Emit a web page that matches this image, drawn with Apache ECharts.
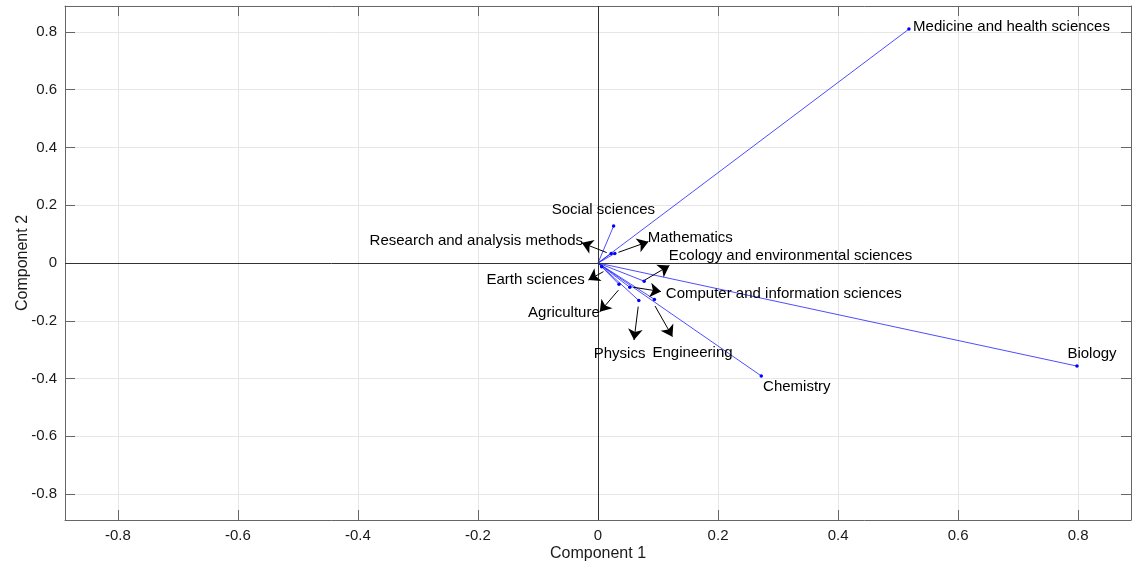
<!DOCTYPE html>
<html><head><meta charset="utf-8">
<script src="https://cdn.jsdelivr.net/npm/echarts@6/dist/echarts.min.js"></script>
<style>html,body{margin:0;padding:0;background:#fff}#c{width:1139px;height:565px}</style>
</head><body><div id="c"></div><script>
// ---- data ----
const names = ['Medicine and health sciences','Biology','Chemistry','Social sciences','Research and analysis methods','Mathematics','Ecology and environmental sciences','Earth sciences','Computer and information sciences','Agriculture','Physics','Engineering'];
const comp1 = [0.518, 0.798, 0.272, 0.026, 0.022, 0.028, 0.077, 0.006, 0.053, 0.035, 0.068, 0.094];
const comp2 = [0.810, -0.357, -0.391, 0.128, 0.033, 0.033, -0.063, -0.013, -0.084, -0.074, -0.130, -0.126];
// label anchors (data units) and alignment
const labelX = [0.525, 0.782, 0.275, 0.009, -0.025, 0.083, 0.118, -0.022, 0.113, 0.003, 0.036, 0.1575];
const labelY = [0.817, -0.315, -0.429, 0.184, 0.076, 0.087, 0.024, -0.059, -0.107, -0.173, -0.315, -0.312];
const labelAlign = ['left','left','left','center','right','left','left','right','left','right','center','center'];
// annotation arrows (data units): null when none
const arrowFromX = [null, null, null, null, 0.0145, 0.034, 0.078, 0.009, 0.059, 0.034, 0.067, 0.095];
const arrowFromY = [null, null, null, null, 0.036, 0.037, -0.059, -0.030, -0.084, -0.094, -0.151, -0.149];
const arrowToX   = [null, null, null, null, -0.027, 0.084, 0.119, -0.016, 0.105, 0.003, 0.060, 0.124];
const arrowToY   = [null, null, null, null, 0.070, 0.074, -0.009, -0.059, -0.099, -0.169, -0.267, -0.255];
const tickVals = [-0.8, -0.6, -0.4, -0.2, 0, 0.2, 0.4, 0.6, 0.8];
const xRange = [-0.888, 0.888];
const yRange = [-0.89, 0.89];

// ---- chart ----
const font = '"Liberation Sans", Arial, Helvetica, sans-serif';
const axisColor = '#666';
const fmt = v => String(Math.round(v * 10) / 10);

function mainAxis(isX) {
  return {
    type: 'value', min: (isX ? xRange : yRange)[0], max: (isX ? xRange : yRange)[1],
    position: isX ? 'bottom' : 'left',
    axisLine: { show: true, onZero: false, lineStyle: { color: axisColor, width: 1 } },
    axisTick: { show: true, inside: true, length: 10, customValues: tickVals, lineStyle: { color: axisColor } },
    axisLabel: { customValues: tickVals, formatter: fmt, color: '#1a1a1a', fontSize: 15, fontFamily: font, margin: 8 },
    splitLine: { show: true, lineStyle: { color: '#e6e6e6', width: 1 } },
    name: isX ? 'Component 1' : 'Component 2',
    nameLocation: 'middle', nameGap: isX ? 26 : 34, nameMoveOverlap: false,
    nameTextStyle: { color: '#1a1a1a', fontSize: 16, fontFamily: font }
  };
}
function mirrorAxis(isX) {
  return {
    type: 'value', min: (isX ? xRange : yRange)[0], max: (isX ? xRange : yRange)[1],
    position: isX ? 'top' : 'right',
    axisLine: { show: true, onZero: false, lineStyle: { color: axisColor, width: 1 } },
    axisTick: { show: true, inside: true, length: 10, customValues: tickVals, lineStyle: { color: axisColor } },
    axisLabel: { show: false },
    splitLine: { show: false }
  };
}

const vectors = names.map((n, i) => ({ coords: [[0, 0], [comp1[i], comp2[i]]] }));
const tips = names.map((n, i) => [comp1[i], comp2[i]]);
const arrows = [];
names.forEach((n, i) => {
  if (arrowFromX[i] !== null) arrows.push({ coords: [[arrowFromX[i], arrowFromY[i]], [arrowToX[i], arrowToY[i]]] });
});
const labels = names.map((n, i) => ({
  name: n, value: [labelX[i], labelY[i]],
  label: { align: labelAlign[i] }
}));

const option = {
  animation: false,
  backgroundColor: '#fff',
  grid: { left: 65, right: 8, top: 6, bottom: 45, containLabel: false, outerBoundsMode: 'none' },
  xAxis: [mainAxis(true), mirrorAxis(true)],
  yAxis: [mainAxis(false), mirrorAxis(false)],
  series: [
    {
      type: 'scatter', data: [], z: 1, silent: true,
      markLine: {
        silent: true, symbol: 'none', animation: false,
        label: { show: false },
        lineStyle: { color: '#333', width: 1, type: 'solid' },
        data: [{ xAxis: 0 }, { yAxis: 0 }]
      }
    },
    {
      type: 'lines', coordinateSystem: 'cartesian2d', z: 3, silent: true,
      data: vectors,
      lineStyle: { color: '#2020ff', width: 0.8, opacity: 1 }
    },
    {
      type: 'scatter', z: 4, silent: true, data: tips,
      symbolSize: 3.5, itemStyle: { color: '#0000ff', opacity: 1 }
    },
    {
      type: 'lines', coordinateSystem: 'cartesian2d', z: 5, silent: true,
      data: arrows,
      symbol: ['none', 'arrow'], symbolSize: [0, 11],
      lineStyle: { color: '#000', width: 1, opacity: 1 },
      itemStyle: { color: '#000' }
    },
    {
      type: 'scatter', z: 6, silent: true, data: labels, symbolSize: 0,
      itemStyle: { opacity: 1 },
      label: {
        show: true, position: [0, 0], verticalAlign: 'middle',
        formatter: p => p.name, color: '#000', fontSize: 15, fontFamily: font
      }
    }
  ]
};
const chart = echarts.init(document.getElementById('c'), null, { renderer: 'canvas' });
chart.setOption(option);
</script></body></html>
